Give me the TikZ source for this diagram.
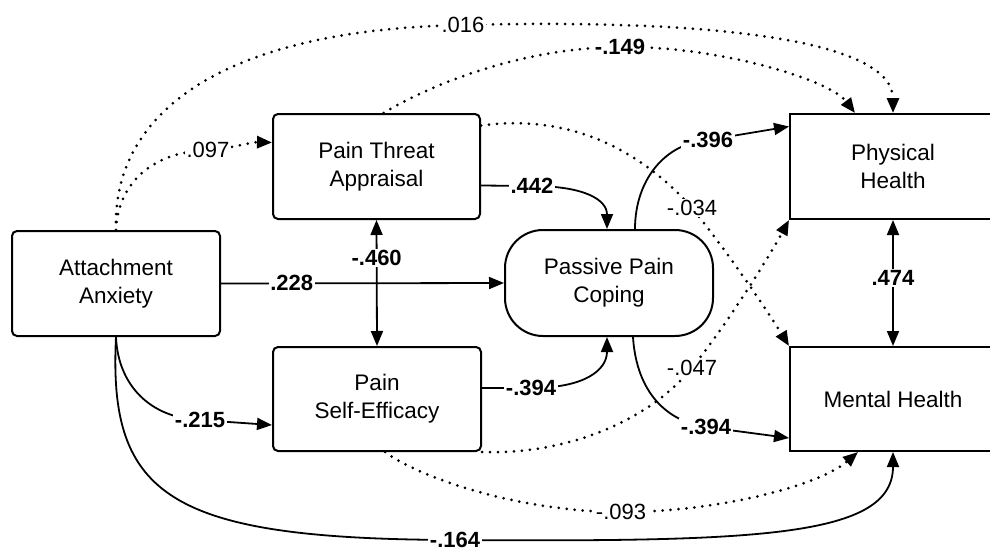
\documentclass[tikz,border=0pt]{standalone}
\usepackage{fontspec}
\setmainfont{Liberation Sans}
\usetikzlibrary{arrows.meta,calc}
\begin{document}
\begin{tikzpicture}[x=1pt,y=-1pt,
  box/.style={draw, line width=2pt, minimum width=208pt, minimum height=105pt, inner sep=0pt, align=center, font=\fontsize{22.5}{28}\selectfont},
  rbox/.style={box, rounded corners=5pt},
  solline/.style={line width=1.8pt, -{Triangle[length=15pt,width=12pt]}},
  bothline/.style={line width=1.8pt, {Triangle[length=15pt,width=12pt]}-{Triangle[length=15pt,width=12pt]}},
  dotline/.style={line width=3pt, dash pattern=on 0pt off 8pt, line cap=round, -{Triangle[length=15pt,width=12pt]}},
  lb/.style={fill=white, inner sep=1.5pt, font=\bfseries\fontsize{22}{24}\selectfont},
  ln/.style={fill=white, inner sep=1.5pt, font=\fontsize{22}{24}\selectfont},
]
\useasboundingbox[fill=white] (0,0) rectangle (990,551);

\node[rbox] (att) at (116,283.5) {Attachment\\Anxiety};
\node[rbox, minimum width=207pt] (pta) at (376.5,166.5) {Pain Threat\\Appraisal};
\node[rbox, minimum height=104pt] (pse) at (377,399) {Pain\\Self-Efficacy};
\node[box, rounded corners=38pt, minimum height=106pt] (ppc) at (609,283) {Passive Pain\\Coping};
\node[box, minimum width=206pt] (phh) at (893,166.5) {Physical\\Health};
\node[box, minimum width=206pt, minimum height=104pt] (mh) at (893,399) {Mental Health};

% .016
\draw[dotline] (att.north) .. controls (112,120) and (210,30) .. (463,25) node[ln]{.016} .. controls (740,18) and (893,45) .. (phh.north);
% -.149
\draw[dotline] ([xshift=7pt]pta.north) .. controls (430,85) and (520,48) .. (620,47) node[lb]{-.149} .. controls (720,46) and (830,80) .. ([xshift=-38pt]phh.north);
% .097
\draw[dotline] (att.north) .. controls (118,185) and (150,152) .. (208,150) node[ln]{.097} .. controls (235,148) and (250,142) .. ([yshift=24pt]pta.west);
% -.034
\draw[dotline] ([yshift=41pt]pta.east) .. controls (580,112) and (650,160) .. (692,208) node[ln]{-.034} .. controls (730,255) and (770,315) .. (mh.north west);
% .442
\draw[solline] ([yshift=-19pt]pta.east) -- (532,186) node[lb]{.442} .. controls (585,186) and (607,200) .. ([xshift=-2pt]ppc.north);
% -.396
\draw[solline] ([xshift=26pt]ppc.north) .. controls (635,180) and (665,143) .. (708,140) node[lb]{-.396} -- ([yshift=40pt]phh.west);
% .228
\draw[solline] (att.east) -- node[lb,pos=0.25]{.228} (ppc.west);
% -.460
\draw[bothline] (pta.south) -- node[lb,pos=0.3]{-.460} (pse.north);
% -.215
\draw[solline] (att.south) .. controls (118,385) and (150,418) .. (200,420) node[lb]{-.215} -- ([yshift=-26pt]pse.west);
% -.394 upper
\draw[solline] ([yshift=11pt]pse.east) -- (531,388) node[lb]{-.394} .. controls (585,388) and (607,370) .. ([xshift=-2pt]ppc.south);
% -.047
\draw[dotline] (pse.south east) .. controls (560,455) and (645,425) .. (692,368) node[ln]{-.047} .. controls (730,320) and (770,255) .. (phh.south west);
% -.394 lower
\draw[solline] ([xshift=24pt]ppc.south) .. controls (636,385) and (660,420) .. (706,427) node[lb]{-.394} -- ([yshift=-39pt]mh.west);
% -.093
\draw[dotline] ([xshift=8pt]pse.south) .. controls (420,478) and (520,512) .. (621,512) node[ln]{-.093} .. controls (720,512) and (820,485) .. ([xshift=-35pt]mh.south);
% -.164
\draw[solline] (att.south) .. controls (108,497) and (170,539) .. (455,540) node[lb]{-.164} .. controls (760,542) and (893,537) .. (mh.south);
% .474
\draw[bothline] (phh.south) -- node[lb,pos=0.46]{.474} (mh.north);
\end{tikzpicture}
\end{document}
